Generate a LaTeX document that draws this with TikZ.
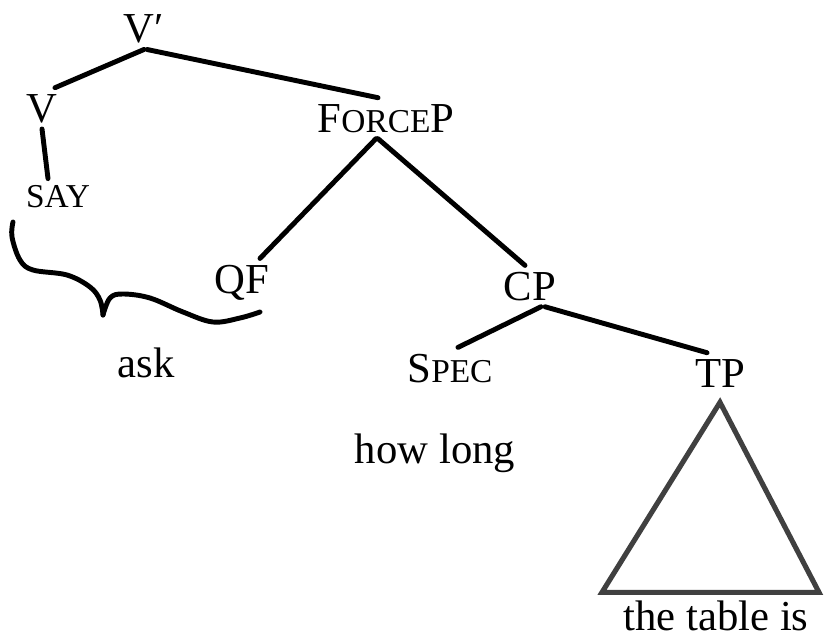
\documentclass[tikz,border=0pt]{standalone}
\usepackage{fontspec}
\setmainfont{Liberation Serif}
\usepackage{tikz}
\usetikzlibrary{positioning, calc}

\newcommand{\smcap}[1]{{\fontsize{19}{21}\selectfont #1}}

\begin{document}
\begin{tikzpicture}[
    font=\fontsize{24.3}{28}\selectfont,
    cat/.style={anchor=base, inner sep=3.4pt},
    branch/.style={line width=2.8pt, line cap=round},
    roof/.style={line width=2.9pt, draw=black!75, line join=miter}
]
\useasboundingbox (0,0) rectangle (16.5,-12.84);

% categories
\node[cat] (vbar)  at (2.88, -0.85)  {V′};
\node[cat] (v)     at (0.84, -2.44)  {V};
\node[cat] (say)   at (1.16, -4.14)  {\smcap{SAY}};
\node[cat] (force) at (7.72, -2.64)  {F\smcap{ORCE}P};
\node[cat] (qf)    at (4.84, -5.86)  {QF};
\node[cat] (cp)    at (10.6, -6.0)   {CP};
\node[cat] (spec)  at (9.0, -7.64)   {S\smcap{PEC}};
\node[cat] (tp)    at (14.4, -7.74)  {TP};

% words
\node[cat] (ask)     at (2.92, -7.54)  {ask};
\node[cat] (howlong) at (8.7, -9.26)   {how long};
\node[cat] (tableis) at (14.32, -12.6) {the table is};

% branches
\draw[branch] (vbar.south) -- ([xshift=0.26cm]v.north);
\draw[branch] ([xshift=0.06cm]vbar.south) -- ([xshift=-0.16cm]force.north);
\draw[branch] (v.south) -- ([xshift=-0.2cm]say.north);
\draw[branch] ([xshift=-0.2cm]force.south) -- ([xshift=0.36cm]qf.north);
\draw[branch] ([xshift=-0.16cm]force.south) -- ([xshift=-0.1cm]cp.north);
\draw[branch] ([xshift=0.22cm]cp.south) -- ([xshift=0.16cm]spec.north);
\draw[branch] ([xshift=0.3cm]cp.south) -- ([xshift=-0.26cm]tp.north);

% roof over TP
\draw[roof] ([yshift=-0.18cm]tp.south) -- ++(-2.36,-3.8) -- ++(4.34,0) -- cycle;

% brace under SAY and QF
\draw[branch] plot[smooth, tension=0.6] coordinates {(0.26,-4.44) (0.24,-4.74) (0.4,-5.2) (0.66,-5.4) (1.34,-5.5) (1.8,-5.74) (2.0,-6.0) (2.06,-6.3)};
\draw[branch] plot[smooth, tension=0.6] coordinates {(2.06,-6.3) (2.2,-5.96) (2.46,-5.88) (3.0,-5.96) (3.66,-6.24) (4.26,-6.44) (4.8,-6.36) (5.2,-6.24)};
\end{tikzpicture}
\end{document}
